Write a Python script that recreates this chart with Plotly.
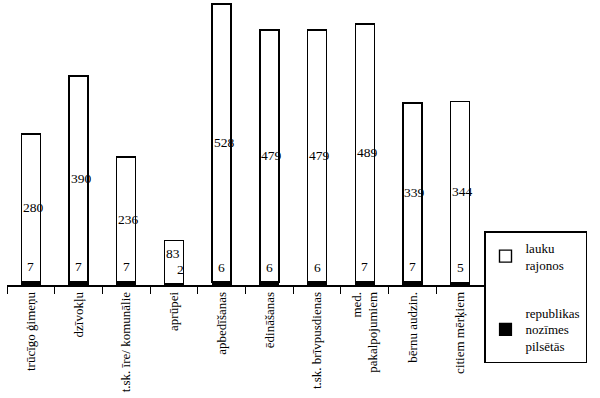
import plotly.graph_objects as go

categories = ["trūcīgo ģimeņu", "dzīvokļu", "t.sk. īre/ komunālie", "aprūpei",
              "apbedīšanas", "ēdināšanas", "t.sk. brīvpusdienas",
              "med.<br>pakalpojumiem", "bērnu audzin.", "citiem mērķiem"]
pilsetas = [7, 7, 7, 2, 6, 6, 6, 7, 7, 5]
lauku = [280, 390, 236, 83, 528, 479, 479, 489, 339, 344]

FONT = "Liberation Serif"

fig = go.Figure()
fig.add_trace(go.Bar(
    x=categories, y=pilsetas, name="republikas<br>nozīmes<br>pilsētās",
    marker=dict(color="black", line=dict(color="black", width=1.2)),
    legendrank=2, legendgroup="b",
))
fig.add_trace(go.Bar(
    x=categories, y=lauku, name="lauku<br>rajonos",
    marker=dict(color="white", line=dict(color="black", width=1.4)),
    legendrank=1, legendgroup="a",
))

annotations = []
for c, b, t in zip(categories, pilsetas, lauku):
    small = t < 100
    annotations.append(dict(x=c, y=b + (t - 25 if small else t / 2), text=str(t), showarrow=False,
                            xanchor="left", xshift=-10,
                            font=dict(family=FONT, size=13.5, color="black")))
    annotations.append(dict(x=c, y=b, text=str(b), showarrow=False,
                            yanchor="bottom", yshift=5, xshift=7 if small else 0,
                            font=dict(family=FONT, size=13.5, color="black")))

fig.update_layout(
    barmode="stack",
    bargap=0.6,
    width=600, height=398,
    margin=dict(l=7, r=116, t=2, b=113, autoexpand=False),
    plot_bgcolor="white", paper_bgcolor="white",
    font=dict(family=FONT, size=12, color="black"),
    annotations=annotations,
    legend=dict(x=1.0, xanchor="left", y=0.19, yanchor="top",
                bordercolor="black", borderwidth=1.5, bgcolor="white",
                tracegroupgap=28, font=dict(family=FONT, size=13),
                traceorder="grouped", itemwidth=30),
    xaxis=dict(showline=True, linecolor="black", linewidth=1.5,
               ticks="outside", tickson="boundaries", ticklen=7,
               tickcolor="black", tickangle=-90, automargin=False,
               tickfont=dict(family=FONT, size=13)),
    yaxis=dict(visible=False, range=[0, 538], automargin=False),
)

fig.write_html("out.html", config={"displayModeBar": False},
               post_script="document.body.style.margin='0';")
